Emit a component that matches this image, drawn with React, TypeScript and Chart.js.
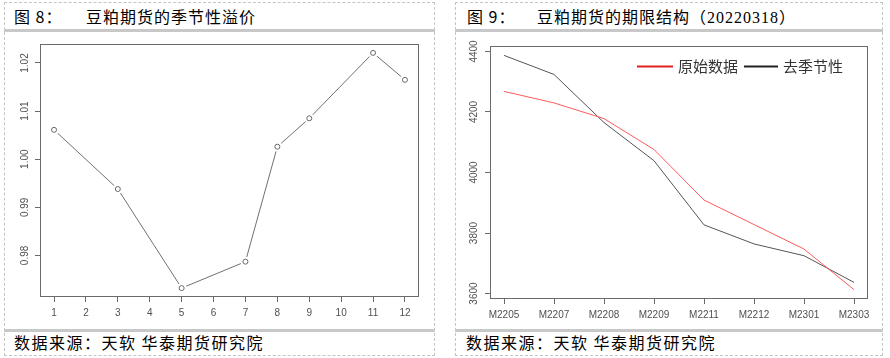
import React, { useEffect, useRef } from "react";
import { Chart, registerables } from "chart.js";

Chart.register(...registerables);

// ---------- Figure 8: seasonal premium ----------
const MONTHS = [1, 3, 5, 7, 8, 9, 11, 12];
const PREMIUM = [1.0061, 0.9938, 0.9732, 0.9787, 1.0026, 1.0085, 1.0221, 1.0165];
const MONTH_TICKS = [1, 2, 3, 4, 5, 6, 7, 8, 9, 10, 11, 12];
const PREMIUM_TICKS = [0.98, 0.99, 1.0, 1.01, 1.02];

// ---------- Figure 9: term structure ----------
const CONTRACTS = ["M2205", "M2207", "M2208", "M2209", "M2211", "M2212", "M2301", "M2303"];
const RAW = [4268, 4230, 4178, 4076, 3909, 3828, 3747, 3613];
const DESEASON = [4387, 4324, 4165, 4039, 3827, 3764, 3725, 3637];
const PRICE_TICKS = [3600, 3800, 4000, 4200, 4400];
const LEGEND_LABELS = ["原始数据", "去季节性"];

const TICK_FONT = { family: "'Liberation Sans', Arial, sans-serif", size: 10 };
const TICK_COLOR = "#505050";
const AXIS_COLOR = "#6a6a6a";

const boxPlugin = {
  id: "rbox",
  afterDraw(chart: any) {
    const { ctx, chartArea: a } = chart;
    ctx.save();
    ctx.strokeStyle = AXIS_COLOR;
    ctx.lineWidth = 1;
    const l = Math.round(a.left) + 0.5;
    const t = Math.round(a.top) + 0.5;
    const r = Math.round(a.right) - 0.5;
    const b = Math.round(a.bottom) - 0.5;
    ctx.strokeRect(l, t, r - l, b - t);
    ctx.restore();
  },
};

const legendPlugin = {
  id: "rlegend",
  afterDraw(chart: any) {
    const { ctx, chartArea: a } = chart;
    const y = Math.round(a.top + 20) + 0.5;
    ctx.save();
    ctx.font = "15px 'Noto Sans CJK SC', sans-serif";
    ctx.textBaseline = "middle";
    ctx.fillStyle = "#333";
    ctx.lineWidth = 2;
    ctx.strokeStyle = "#e02020";
    ctx.beginPath();
    ctx.moveTo(a.left + 147, y);
    ctx.lineTo(a.left + 183, y);
    ctx.stroke();
    ctx.fillText(LEGEND_LABELS[0], a.left + 188, y);
    ctx.strokeStyle = "#222";
    ctx.beginPath();
    ctx.moveTo(a.left + 254, y);
    ctx.lineTo(a.left + 288, y);
    ctx.stroke();
    ctx.fillText(LEGEND_LABELS[1], a.left + 293, y);
    ctx.restore();
  },
};

function xAxis(min: number, max: number, ticks: number[], height: number, labelFn: (v: number) => string) {
  return {
    type: "linear" as const,
    min,
    max,
    afterBuildTicks: (s: any) => {
      s.ticks = ticks.map((v) => ({ value: v }));
    },
    afterFit: (s: any) => {
      s.height = height;
    },
    grid: { drawOnChartArea: false, drawTicks: true, tickLength: 5, color: AXIS_COLOR, lineWidth: 1 },
    border: { display: false },
    ticks: {
      padding: 5,
      autoSkip: false,
      maxRotation: 0,
      minRotation: 0,
      font: TICK_FONT,
      color: TICK_COLOR,
      callback: (v: any) => labelFn(Number(v)),
    },
  };
}

function yAxis(min: number, max: number, ticks: number[], width: number, labelFn: (v: number) => string) {
  return {
    type: "linear" as const,
    min,
    max,
    afterBuildTicks: (s: any) => {
      s.ticks = ticks.map((v) => ({ value: v }));
    },
    afterFit: (s: any) => {
      s.width = width;
    },
    grid: { drawOnChartArea: false, drawTicks: true, tickLength: 5, color: AXIS_COLOR, lineWidth: 1 },
    border: { display: false },
    ticks: {
      padding: 0,
      minRotation: 90,
      maxRotation: 90,
      crossAlign: "center" as const,
      autoSkip: false,
      font: TICK_FONT,
      color: TICK_COLOR,
      callback: (v: any) => labelFn(Number(v)),
    },
  };
}

function premiumConfig(): any {
  const pts = MONTHS.map((m, i) => ({ x: m, y: PREMIUM[i] }));
  return {
    type: "line",
    data: {
      datasets: [
        {
          data: pts,
          showLine: false,
          pointRadius: 2.5,
          pointBorderWidth: 1,
          pointBorderColor: "#6a6a6a",
          pointBackgroundColor: "rgba(255,255,255,0)",
          order: 0,
        },
        {
          data: pts,
          showLine: false,
          pointRadius: 5,
          pointBorderWidth: 0,
          pointBorderColor: "rgba(255,255,255,0)",
          pointBackgroundColor: "#ffffff",
          order: 1,
        },
        {
          data: pts,
          pointRadius: 0,
          borderColor: "#707070",
          borderWidth: 1,
          tension: 0,
          order: 2,
        },
      ],
    },
    options: {
      animation: false,
      responsive: false,
      maintainAspectRatio: false,
      events: [],
      layout: { padding: { left: 0, top: 12, right: 15, bottom: 0 } },
      plugins: { legend: { display: false }, tooltip: { enabled: false } },
      scales: {
        x: xAxis(0.56, 12.44, MONTH_TICKS, 32, (v) => String(v)),
        y: yAxis(0.97135, 1.02395, PREMIUM_TICKS, 36, (v) => v.toFixed(2)),
      },
    },
    plugins: [boxPlugin],
  };
}

function termConfig(): any {
  const idx = CONTRACTS.map((_, i) => i + 1);
  return {
    type: "line",
    data: {
      datasets: [
        {
          label: LEGEND_LABELS[0],
          data: idx.map((x, i) => ({ x, y: RAW[i] })),
          borderColor: "#ff5a5a",
          borderWidth: 1,
          pointRadius: 0,
          tension: 0,
        },
        {
          label: LEGEND_LABELS[1],
          data: idx.map((x, i) => ({ x, y: DESEASON[i] })),
          borderColor: "#555555",
          borderWidth: 1,
          pointRadius: 0,
          tension: 0,
        },
      ],
    },
    options: {
      animation: false,
      responsive: false,
      maintainAspectRatio: false,
      events: [],
      layout: { padding: { left: 0, top: 14, right: 17, bottom: 0 } },
      plugins: { legend: { display: false }, tooltip: { enabled: false } },
      scales: {
        x: xAxis(0.72, 8.28, idx, 30, (v) => CONTRACTS[v - 1] ?? ""),
        y: yAxis(3582, 4418, PRICE_TICKS, 35, (v) => String(v)),
      },
    },
    plugins: [boxPlugin, legendPlugin],
  };
}

function ChartCanvas({ make, left, top, width, height }: { make: () => any; left: number; top: number; width: number; height: number }) {
  const ref = useRef<HTMLCanvasElement | null>(null);
  useEffect(() => {
    if (!ref.current) return;
    const chart = new Chart(ref.current, make());
    return () => chart.destroy();
  }, [make]);
  return (
    <canvas
      ref={ref}
      width={width}
      height={height}
      style={{ position: "absolute", left, top, width, height, display: "block" }}
    />
  );
}

const CJK = "'Noto Sans CJK SC', 'Noto Sans', sans-serif";

function Text({ left, top, children, style }: { left: number; top: number; children: React.ReactNode; style?: React.CSSProperties }) {
  return (
    <div
      style={{
        position: "absolute",
        left,
        top,
        height: 20,
        lineHeight: "20px",
        fontSize: 16,
        letterSpacing: 1,
        fontFamily: CJK,
        color: "#000",
        whiteSpace: "nowrap",
        ...style,
      }}
    >
      {children}
    </div>
  );
}

const DASH = "1px dashed #c4c4c4";

function Panel({ left, width }: { left: number; width: number }) {
  return (
    <>
      <div style={{ position: "absolute", left, top: 2, width: width - 2, height: 352, border: DASH }} />
      <div style={{ position: "absolute", left, top: 29, width, height: 3, background: "#c8c8c8" }} />
      <div style={{ position: "absolute", left, top: 329, width, height: 3, background: "#c8c8c8" }} />
    </>
  );
}

export default function App() {
  return (
    <div style={{ position: "absolute", left: 0, top: 0, width: 890, height: 358, background: "#fff", overflow: "hidden" }}>
      <Panel left={4} width={431} />
      <Panel left={455} width={428} />

      <Text left={14} top={6}>图 8：</Text>
      <Text left={86} top={6}>豆粕期货的季节性溢价</Text>
      <Text left={467} top={6}>图 9：</Text>
      <Text left={537} top={6}>
        豆粕期货的期限结构（<span style={{ fontFamily: "'Liberation Serif', serif" }}>20220318</span>）
      </Text>

      <ChartCanvas make={premiumConfig} left={4} top={32} width={430} height={297} />
      <ChartCanvas make={termConfig} left={455} top={32} width={430} height={297} />

      <Text left={14} top={332} style={{ letterSpacing: 1.5 }}>数据来源：天软 华泰期货研究院</Text>
      <Text left={466} top={332} style={{ letterSpacing: 1.5 }}>数据来源：天软 华泰期货研究院</Text>
    </div>
  );
}
